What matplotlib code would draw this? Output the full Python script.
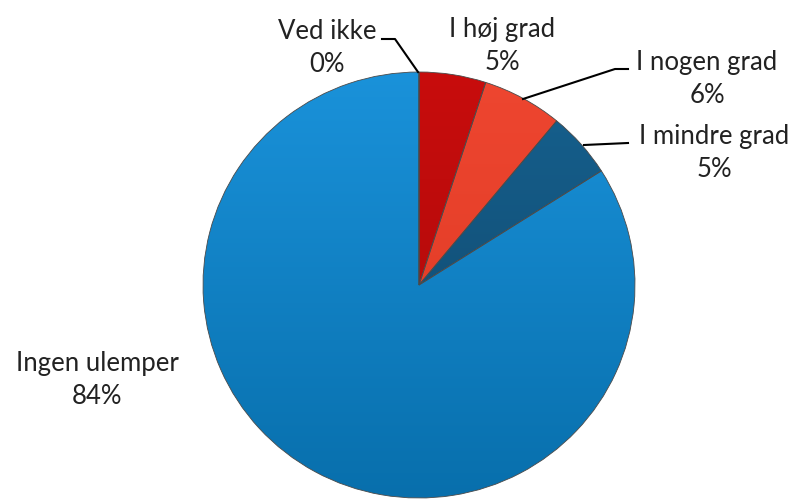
import numpy as np
import matplotlib.pyplot as plt
from matplotlib.colors import to_rgb

# data (clockwise from 12 o'clock)
labels = ["Ved ikke", "I høj grad", "I nogen grad", "I mindre grad", "Ingen ulemper"]
shares = [0, 5, 6, 5, 84]
top_colors = ["#c20c0c", "#c80d0d", "#ee4630", "#16618f", "#1a92da"]
bottom_colors = ["#9a0808", "#a80909", "#dc3822", "#0f4467", "#086fac"]

plt.rcParams['font.family'] = ['Lato', 'DejaVu Sans']

fig = plt.figure(figsize=(7.95, 5.0), dpi=100)
W, H = 795, 500
cx, cy, rx, ry = 419, 285, 216, 213

def fx(x):
    return x / W

def fy(y):
    return 1 - y / H

ax = fig.add_axes([fx(cx - rx), fy(cy + ry), 2 * rx / W, 2 * ry / H])
wedges, _ = ax.pie(shares, colors=bottom_colors, startangle=90, counterclock=False,
                   radius=1, wedgeprops=dict(linewidth=0.6, edgecolor="#4a4a4a"))
ax.set_xlim(-1, 1)
ax.set_ylim(-1, 1)
ax.set_aspect("auto")
ax.axis("off")

# vertical shading inside each slice
t = np.linspace(0, 1, 256)[:, None]
for w, c_top, c_bot in zip(wedges, top_colors, bottom_colors):
    a, b = np.array(to_rgb(c_top)), np.array(to_rgb(c_bot))
    img = (a[None, None, :] * (1 - t[..., None]) + b[None, None, :] * t[..., None])
    img = np.repeat(img, 2, axis=1)
    im = ax.imshow(img, extent=[-1, 1, -1, 1], origin="upper", aspect="auto", zorder=1.5)
    im.set_clip_path(w)
    w.set_facecolor("none")
    w.set_zorder(2)

txt = dict(ha="center", va="center", fontsize=18.5, color="#222222", linespacing=1.4)

def label(i, x, y):
    fig.text(fx(x), fy(y), f"{labels[i]}\n{shares[i]}%", **txt)

def leader(pts):
    xs = [fx(p[0]) for p in pts]
    ys = [fy(p[1]) for p in pts]
    fig.add_artist(plt.Line2D(xs, ys, color="black", linewidth=1.5, transform=fig.transFigure))

label(0, 327, 48)
leader([(418, 72), (395, 39), (382, 39)])

label(1, 502, 46)

label(2, 707, 79)
leader([(523, 99), (615, 69), (628, 69)])

label(3, 714, 153)
leader([(584, 145), (628, 143)])

label(4, 97, 380)

fig.savefig("out.png", dpi=100)
